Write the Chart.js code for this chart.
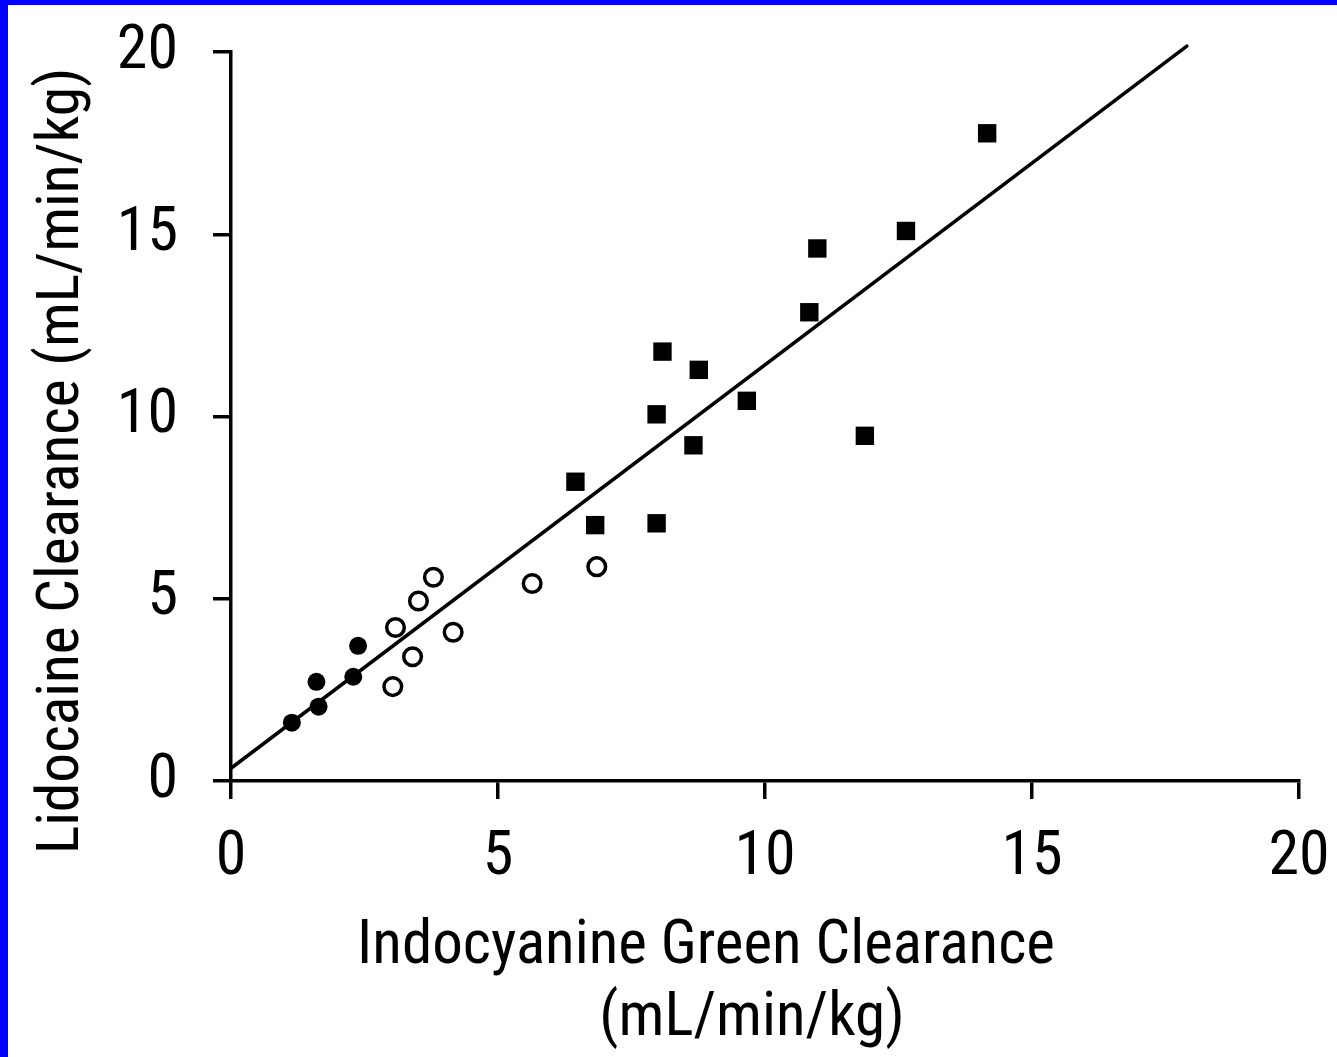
<!DOCTYPE html>
<html>
<head>
<meta charset="utf-8">
<script src="https://cdn.jsdelivr.net/npm/chart.js@4.4.1/dist/chart.umd.min.js"></script>
<style>
  html, body { margin: 0; padding: 0; background: #ffffff; }
  #frame {
    position: absolute; left: 0; top: 0;
    width: 1329px; height: 1052px;
    border-top: 5px solid #0000ff;
    border-left: 8px solid #0000ff;
    background: #ffffff;
  }
  canvas { display: block; }
</style>
</head>
<body>
<div id="frame"><canvas id="c" width="1329" height="1052" style="width:1329px;height:1052px"></canvas></div>
<script>
// ---- Data ----
const xTitle = ['Indocyanine Green Clearance', '(mL/min/kg)'];
const yTitle = 'Lidocaine Clearance (mL/min/kg)';
const tickValues = [0, 5, 10, 15, 20];

// filled circles
const filledX = [1.14, 1.64, 1.60, 2.29, 2.38];
const filledY = [1.60, 2.04, 2.72, 2.86, 3.71];

// open circles
const openX = [3.03, 3.40, 3.08, 3.51, 3.79, 4.16, 5.64, 6.85];
const openY = [2.59, 3.41, 4.21, 4.94, 5.59, 4.08, 5.42, 5.88];

// filled squares
const squareX = [6.45, 6.82, 7.97, 7.97, 8.08, 8.76, 8.66, 9.66, 11.87, 10.83, 10.98, 12.64, 14.16];
const squareY = [8.21, 7.02, 7.07, 10.06, 11.78, 11.28, 9.21, 10.43, 9.47, 12.86, 14.61, 15.09, 17.77];

// regression line end points
const lineX = [0, 17.9];
const lineY = [0.35, 20.16];

const toPts = (xs, ys) => xs.map((x, i) => ({ x: x, y: ys[i] }));

const FAMILY = 'Roboto, "DejaVu Sans", sans-serif';

const titlePlugin = {
  id: 'axisTitles',
  afterDraw(chart) {
    const ctx = chart.ctx;
    const area = chart.chartArea;
    ctx.save();
    ctx.fillStyle = '#000';
    ctx.textAlign = 'center';
    ctx.textBaseline = 'alphabetic';
    ctx.font = 'condensed 61px ' + FAMILY;
    ctx.fillText(xTitle[0], area.left + 475, area.bottom + 182);
    ctx.fillText(xTitle[1], area.left + 521, area.bottom + 254);
    ctx.font = 'condensed 59.5px ' + FAMILY;
    ctx.translate(70, area.top + 409);
    ctx.rotate(-Math.PI / 2);
    ctx.fillText(yTitle, 0, 0);
    ctx.restore();
  }
};

new Chart(document.getElementById('c'), {
  type: 'scatter',
  data: {
    datasets: [
      {
        label: 'Regression',
        type: 'line',
        data: toPts(lineX, lineY),
        borderColor: '#000',
        borderWidth: 3.5,
        borderCapStyle: 'round',
        pointRadius: 0,
        fill: false,
        clip: false,
        order: 4
      },
      {
        label: 'Filled circles',
        data: toPts(filledX, filledY),
        pointStyle: 'circle',
        pointRadius: 9,
        backgroundColor: '#000',
        borderColor: '#000',
        borderWidth: 0,
        order: 1
      },
      {
        label: 'Open circles',
        data: toPts(openX, openY),
        pointStyle: 'circle',
        pointRadius: 8.8,
        backgroundColor: '#fff',
        borderColor: '#000',
        borderWidth: 3.5,
        order: 2
      },
      {
        label: 'Squares',
        data: toPts(squareX, squareY),
        pointStyle: 'rect',
        pointRadius: 13,
        backgroundColor: '#000',
        borderColor: '#000',
        borderWidth: 0,
        order: 3
      }
    ]
  },
  options: {
    responsive: false,
    maintainAspectRatio: false,
    animation: false,
    devicePixelRatio: 1,
    layout: { padding: { top: 47, right: 38, left: 0, bottom: 0 } },
    plugins: {
      legend: { display: false },
      tooltip: { enabled: false }
    },
    scales: {
      x: {
        type: 'linear',
        min: 0, max: 20,
        afterBuildTicks: (s) => { s.ticks = tickValues.map(v => ({ value: v })); },
        afterFit: (s) => { s.height = 276; s.paddingLeft = 0; s.paddingRight = 0; },
        border: { display: true, color: '#000', width: 3.5 },
        grid: { drawOnChartArea: false, drawTicks: true, tickLength: 18, color: '#000', lineWidth: 3.5 },
        ticks: { color: '#000', padding: 28, font: { family: FAMILY, weight: 'condensed', size: 62, lineHeight: 1 }, maxRotation: 0 },
        title: { display: false }
      },
      y: {
        type: 'linear',
        min: 0, max: 20,
        afterBuildTicks: (s) => { s.ticks = tickValues.map(v => ({ value: v })); },
        afterFit: (s) => { s.width = 223; s.paddingTop = 0; s.paddingBottom = 0; },
        border: { display: true, color: '#000', width: 3.5 },
        grid: { drawOnChartArea: false, drawTicks: true, tickLength: 18, color: '#000', lineWidth: 3.5 },
        ticks: { color: '#000', padding: 35, font: { family: FAMILY, weight: 'condensed', size: 62, lineHeight: 1 } },
        title: { display: false }
      }
    }
  },
  plugins: [titlePlugin]
});
</script>
</body>
</html>
